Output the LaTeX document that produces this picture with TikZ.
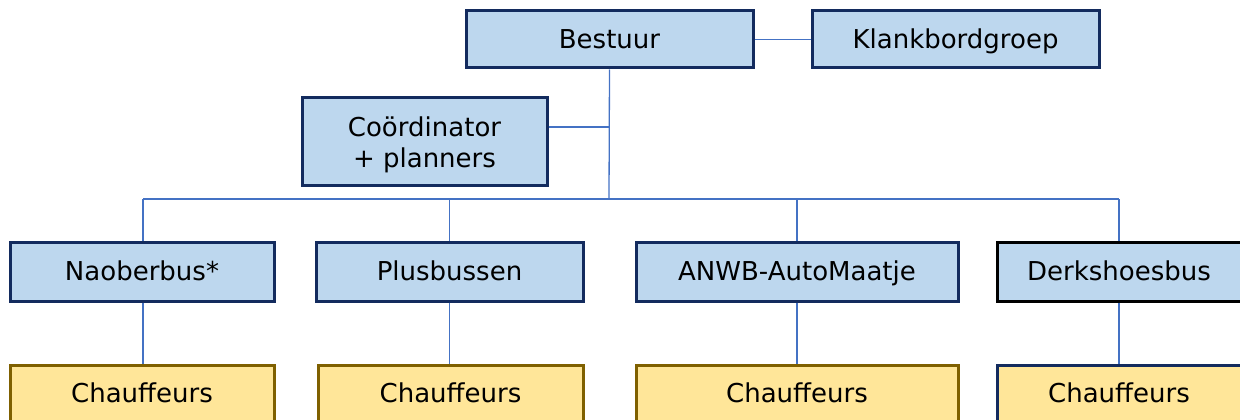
\documentclass[tikz,border=0pt]{standalone}
\usepackage{fontspec}
\setmainfont{DejaVu Sans}
\definecolor{bluefill}{HTML}{BDD7EE}
\definecolor{navy}{HTML}{132B5E}
\definecolor{goldfill}{HTML}{FFE699}
\definecolor{goldline}{HTML}{7F6000}
\definecolor{linkblue}{HTML}{4472C4}
\tikzset{
  boxfont/.style={font=\fontsize{26}{31}\selectfont},
  oneline/.style={text height=21pt, text depth=3pt},
  bluebox/.style={draw=navy, fill=bluefill, line width=3pt, inner sep=0pt, boxfont, align=center},
  goldbox/.style={draw=goldline, fill=goldfill, line width=3pt, inner sep=0pt, boxfont, text height=19pt, text depth=5pt},
  link/.style={draw=linkblue, line width=1.3pt}
}
\begin{document}
\begin{tikzpicture}[x=1pt,y=-1pt]
\useasboundingbox (0,0) rectangle (1240,420);
\clip (0,0) rectangle (1240,420);
% top level
\node[bluebox, oneline, minimum width=287, minimum height=57] (bestuur) at (609.5,39.5) {Bestuur};
\node[bluebox, oneline, minimum width=287, minimum height=57] (klank) at (955.5,39.5) {Klankbordgroep};
\node[bluebox, minimum width=245, minimum height=88] (coord) at (424.5,141) {};
\node[boxfont, align=center, inner sep=0pt] (coordtext) at (424.5,144.5) {Coördinator\\+ planners};
% level 2
\node[bluebox, oneline, minimum width=264, minimum height=59] (naober) at (142,271.5) {Naoberbus*};
\node[bluebox, oneline, minimum width=267, minimum height=59] (plus) at (449.5,271.5) {Plusbussen};
\node[bluebox, oneline, minimum width=322, minimum height=59] (anwb) at (797,271.5) {ANWB-AutoMaatje};
\node[bluebox, oneline, draw=black, minimum width=244, minimum height=59] (derks) at (1119,271.5) {Derkshoesbus};
% chauffeurs
\node[goldbox, minimum width=264, minimum height=60] (ch1) at (142,395) {Chauffeurs};
\node[goldbox, minimum width=265, minimum height=60] (ch2) at (450.5,395) {Chauffeurs};
\node[goldbox, minimum width=322, minimum height=60] (ch3) at (797,395) {Chauffeurs};
\node[goldbox, draw=navy, minimum width=244, minimum height=60] (ch4) at (1119,395) {Chauffeurs};
% connectors
\coordinate (cj) at (609,127);
\coordinate (bus) at (609,199);
\coordinate (busL) at (143,199);
\coordinate (busR) at (1119,199);
\draw[link] (bestuur) -- (klank);
\draw[link] (bestuur.south) -- (bus);
\draw[link] (cj -| coord.east) -- (cj);
\draw[link] (busL) -- (busR);
\draw[link] (busL) -- (busL |- naober.north);
\draw[link] (bus -| plus.north) -- (plus.north);
\draw[link] (bus -| anwb.north) -- (anwb.north);
\draw[link] (busR) -- (derks.north);
\draw[link] (naober.south -| busL) -- (ch1.north -| busL);
\draw[link] (plus.south) -- (plus.south |- ch2.north);
\draw[link] (anwb.south) -- (ch3.north);
\draw[link] (derks.south) -- (ch4.north);
\end{tikzpicture}
\end{document}
